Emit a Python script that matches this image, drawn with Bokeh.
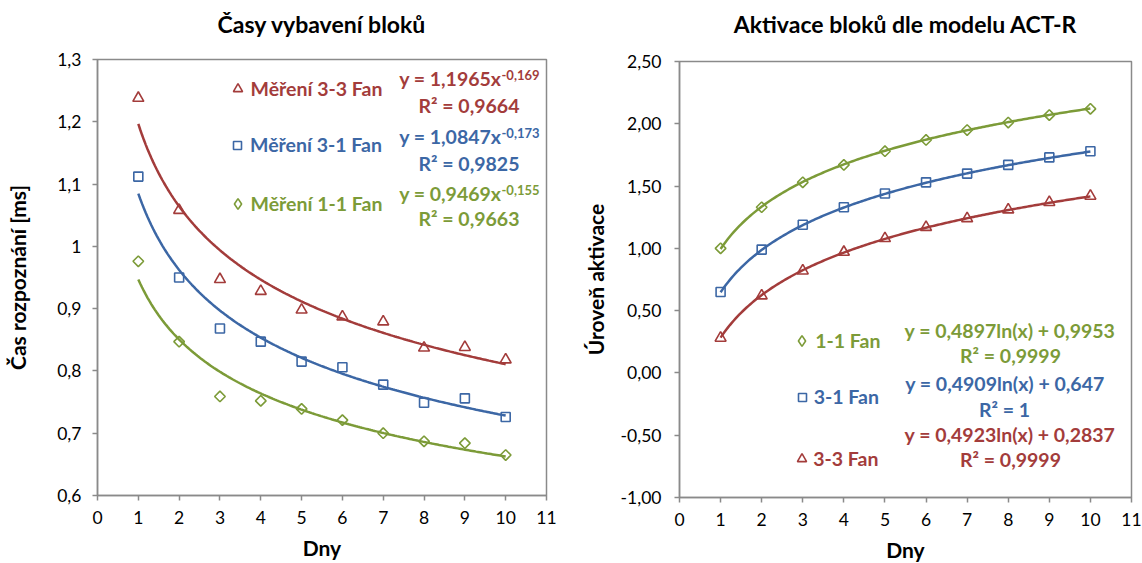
import numpy as np
from bokeh.plotting import figure
from bokeh.layouts import row, column
from bokeh.models import (FixedTicker, CustomJSTickFormatter, Label, Legend,
                          LegendItem, Range1d)
from bokeh.embed import file_html
from bokeh.resources import INLINE

FONT = "Lato"
RED = "#A33C3B"
BLUE = "#3C67A5"
GREEN = "#7C9B38"
AXIS_GREY = "#8A8A8A"

# ---------------------------------------------------------------- data
days = [1, 2, 3, 4, 5, 6, 7, 8, 9, 10]
day_ticks = [0, 1, 2, 3, 4, 5, 6, 7, 8, 9, 10, 11]

# recall times [ms]
time_33 = [1.238, 1.058, 0.947, 0.928, 0.898, 0.887, 0.879, 0.837, 0.838, 0.818]
time_31 = [1.112, 0.950, 0.868, 0.847, 0.815, 0.806, 0.778, 0.749, 0.756, 0.726]
time_11 = [0.976, 0.847, 0.759, 0.752, 0.739, 0.721, 0.700, 0.687, 0.684, 0.665]

# power trendlines  y = a * x^b
pow_33 = [1.1965, -0.169]
pow_31 = [1.0847, -0.173]
pow_11 = [0.9469, -0.155]
r2_time = [0.9664, 0.9825, 0.9663]          # 3-3, 3-1, 1-1

time_yticks = [0.6, 0.7, 0.8, 0.9, 1.0, 1.1, 1.2, 1.3]

# ACT-R activation levels
act_11 = [1.00, 1.33, 1.53, 1.67, 1.78, 1.87, 1.95, 2.01, 2.07, 2.12]
act_31 = [0.65, 0.99, 1.19, 1.33, 1.44, 1.53, 1.60, 1.67, 1.73, 1.78]
act_33 = [0.28, 0.62, 0.82, 0.97, 1.08, 1.17, 1.24, 1.31, 1.37, 1.42]

# logarithmic trendlines  y = a * ln(x) + b
log_11 = [0.4897, 0.9953]
log_31 = [0.4909, 0.647]
log_33 = [0.4923, 0.2837]
r2_act = ["0,9999", "1", "0,9999"]           # 1-1, 3-1, 3-3

act_yticks = [-1.0, -0.5, 0.0, 0.5, 1.0, 1.5, 2.0, 2.5]

TEXT_SIZE = 19.5
HEAD_H = 45


def cz(v):
    """Czech decimal comma."""
    return str(v).replace(".", ",")


def header(s, border_left, frame_w, border_right):
    """Strip above a chart carrying its heading (frame aligned with the chart)."""
    h = figure(x_range=Range1d(0, 1), y_range=Range1d(0, 1), frame_width=frame_w,
               frame_height=HEAD_H, min_border_left=border_left,
               min_border_right=border_right, min_border_top=0,
               min_border_bottom=0, x_axis_location=None,
               y_axis_location=None, outline_line_color=None,
               output_backend="svg", toolbar_location=None)
    h.grid.visible = False
    h.add_layout(Label(x=frame_w / 2, y=HEAD_H - 23, x_units="screen",
                       y_units="screen", text=s, text_color="black",
                       text_font=FONT, text_font_size="23px",
                       text_font_style="bold", text_align="center",
                       text_baseline="middle"))
    return h


def style_panel(p, ylabel, yticks, fmt_code):
    p.xgrid.visible = False
    p.ygrid.visible = False
    p.outline_line_color = AXIS_GREY
    p.outline_line_width = 1.5
    p.background_fill_color = "white"
    p.border_fill_color = "white"

    p.xaxis.ticker = FixedTicker(ticks=day_ticks)
    p.yaxis.ticker = FixedTicker(ticks=yticks)
    p.yaxis.formatter = CustomJSTickFormatter(code=fmt_code)
    for ax in (p.xaxis, p.yaxis):
        ax.axis_line_color = AXIS_GREY
        ax.axis_line_width = 1.5
        ax.major_tick_line_color = AXIS_GREY
        ax.major_tick_line_width = 1.5
        ax.major_tick_out = 5
        ax.major_tick_in = 0
        ax.minor_tick_line_color = None
        ax.major_label_text_font = FONT
        ax.major_label_text_font_size = "17.5px"
        ax.major_label_text_color = "black"
        ax.axis_label_text_font = FONT
        ax.axis_label_text_font_style = "bold"
        ax.axis_label_text_font_size = "21px"
        ax.axis_label_text_color = "black"
    p.xaxis.axis_label = "Dny"
    p.yaxis.axis_label = ylabel
    p.xaxis.major_label_standoff = 10
    p.xaxis.axis_label_standoff = 8


def text(p, x, y, s, color, size=TEXT_SIZE, align="center"):
    p.add_layout(Label(x=x, y=y, x_units="screen", y_units="screen", text=s,
                       text_color=color, text_font=FONT, text_font_size=f"{size}px",
                       text_font_style="bold", text_align=align,
                       text_baseline="middle"))


def key(p, renderer, label, color, cx, cy, text_x, glyph):
    leg = Legend(items=[LegendItem(label=label, renderers=[renderer])],
                 location=(cx - glyph / 2, cy - glyph / 2), padding=0, margin=0,
                 spacing=0, glyph_width=glyph, glyph_height=glyph,
                 label_height=glyph, label_standoff=int(round(text_x - cx - glyph / 2)),
                 border_line_alpha=0, background_fill_alpha=0,
                 label_text_font=FONT, label_text_font_style="bold",
                 label_text_font_size=f"{TEXT_SIZE}px", label_text_color=color)
    p.add_layout(leg)


def points(p, vals, marker, color):
    if marker == "diamond":
        p.scatter(days, vals, marker="square", size=7.5, angle=np.pi / 4,
                  fill_alpha=0, line_color=color, line_width=1.6)
    else:
        p.scatter(days, vals, marker=marker, size=11 if marker == "triangle" else 9,
                  fill_alpha=0, line_color=color, line_width=1.6)
    # swatch renderer for the legend entry; it has no plottable point
    return p.scatter(x=[np.nan], y=[np.nan], marker=marker, fill_alpha=0,
                     line_color=color, line_width=1.6)


GLYPH = {"triangle": 23, "square": 20, "diamond": 27}

xs = np.linspace(1, 10, 200)

# ---------------------------------------------------------------- left panel
left = figure(x_range=Range1d(0, 11), y_range=Range1d(0.6, 1.3),
              frame_width=449, frame_height=436,
              min_border_left=97, min_border_right=25, min_border_top=59 - HEAD_H,
              min_border_bottom=68, output_backend="svg", toolbar_location=None)
style_panel(left, "Čas rozpoznání [ms]", time_yticks,
            "return (Math.round(tick*10)/10).toString().replace('.', ',');")
left.yaxis.major_label_standoff = 11
left.yaxis.axis_label_standoff = 24

series_time = [
    (time_33, pow_33, RED, "triangle", "Měření 3-3 Fan"),
    (time_31, pow_31, BLUE, "square", "Měření 3-1 Fan"),
    (time_11, pow_11, GREEN, "diamond", "Měření 1-1 Fan"),
]
rows_y = [(409, 417, 421, 390), (351, 359, 362.5, 332), (294, 302, 305.5, 277)]
for (vals, (a, b), color, marker, name), r2, (ky, ey, sy, ry) in zip(
        series_time, r2_time, rows_y):
    left.line(xs, a * xs ** b, line_color=color, line_width=2.5)
    swatch = points(left, vals, marker, color)
    key(left, swatch, name, color, 140, ky - 2, 153, GLYPH[marker])
    text(left, 404, ey, f"y = {cz(a)}x", color, align="right")
    text(left, 404, sy, cz(b), color, size=13, align="left")
    text(left, 371.5, ry, f"R² = {cz(r2)}", color)

# ---------------------------------------------------------------- right panel
right = figure(x_range=Range1d(0, 11), y_range=Range1d(-1.0, 2.5),
               frame_width=452, frame_height=436,
               min_border_left=108, min_border_right=11, min_border_top=61 - HEAD_H,
               min_border_bottom=66, output_backend="svg", toolbar_location=None)
style_panel(right, "Úroveň aktivace", act_yticks,
            "return tick.toFixed(2).replace('.', ',');")
right.yaxis.major_label_standoff = 13
right.yaxis.axis_label_standoff = 10

series_act = [
    (act_11, log_11, GREEN, "diamond", "1-1 Fan"),
    (act_31, log_31, BLUE, "square", "3-1 Fan"),
    (act_33, log_33, RED, "triangle", "3-3 Fan"),
]
rows_r = [(158, 330.5, 167, 331, 142), (100, 325.5, 114, 325, 88),
          (40, 330.5, 63, 331, 38)]
for (vals, (a, b), color, marker, name), r2, (ky, ex, ey, rx, ry) in zip(
        series_act, r2_act, rows_r):
    right.line(xs, a * np.log(xs) + b, line_color=color, line_width=2.5)
    swatch = points(right, vals, marker, color)
    key(right, swatch, name, color, 122.7, ky - 1, 134.3, GLYPH[marker])
    text(right, ex, ey, f"y = {cz(a)}ln(x) + {cz(b)}", color)
    text(right, rx, ry, f"R² = {r2}", color)

layout = row(column(header("Časy vybavení bloků", 97, 449, 25), left, spacing=0),
             column(header("Aktivace bloků dle modelu ACT-R", 108, 452, 11), right,
                    spacing=0),
             spacing=0)
open("out.html", "w").write(file_html(layout, INLINE))
